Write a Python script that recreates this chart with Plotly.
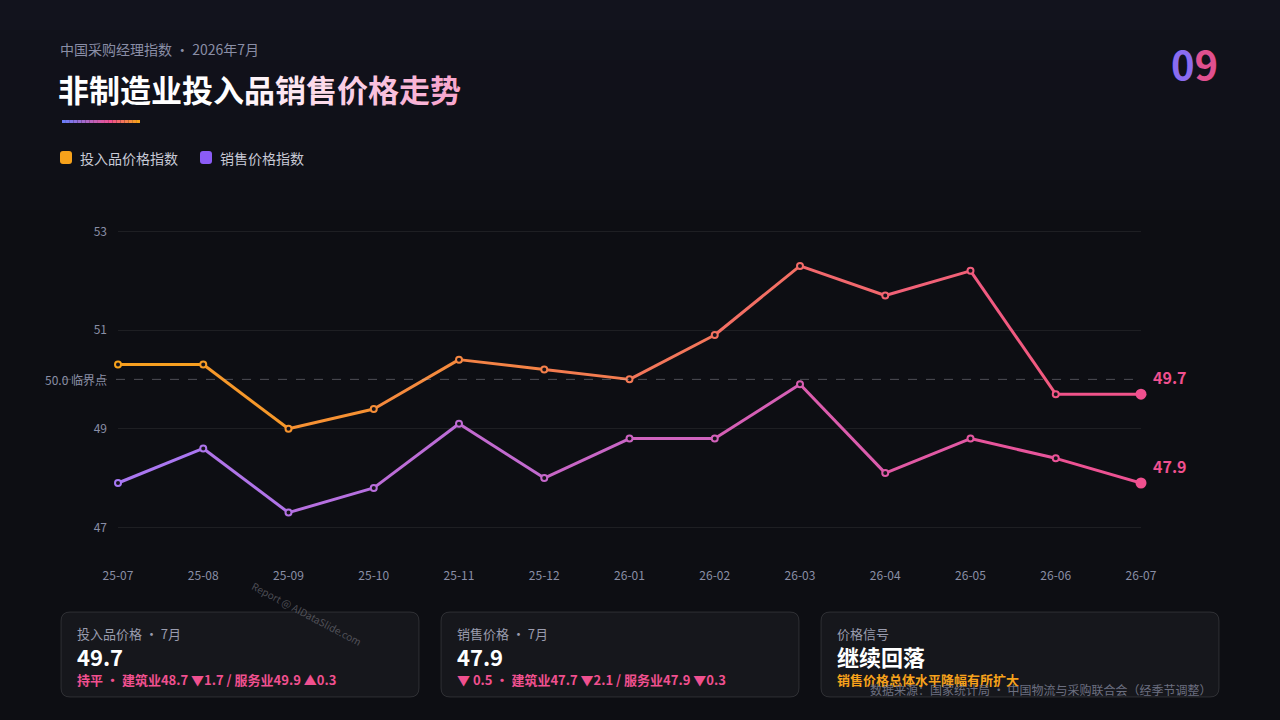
import plotly.graph_objects as go

months = ["25-07", "25-08", "25-09", "25-10", "25-11", "25-12", "26-01",
          "26-02", "26-03", "26-04", "26-05", "26-06", "26-07"]
input_price = [50.3, 50.3, 49.0, 49.4, 50.4, 50.2, 50.0, 50.9, 52.3, 51.7, 52.2, 49.7, 49.7]
sales_price = [47.9, 48.6, 47.3, 47.8, 49.1, 48.0, 48.8, 48.8, 49.9, 48.1, 48.8, 48.4, 47.9]
y_ticks = [47, 49, 51, 53]
threshold = 50.0

FONT = "Noto Sans CJK SC"
PINK = "#f0508f"

W, H = 1280, 720
L, R, T, B = 118, 139, 182, 163
PW, PH = W - L - R, H - T - B


def px(x):
    # page pixel -> paper x (paper is the plot area)
    return (x - L) / PW


def py(y):
    return 1 - (y - T) / PH


def mix(c1, c2, t):
    a = [int(c1[i:i + 2], 16) for i in (1, 3, 5)]
    b = [int(c2[i:i + 2], 16) for i in (1, 3, 5)]
    return "#" + "".join("%02x" % round(a[k] + (b[k] - a[k]) * t) for k in range(3))


def rounded(x0, y0, x1, y1, r=8):
    # rounded rectangle path in paper coords, from page pixels
    pts = [(x0 + r, y0), (x1 - r, y0), (x1, y0), (x1, y0 + r), (x1, y1 - r), (x1, y1),
           (x1 - r, y1), (x0 + r, y1), (x0, y1), (x0, y1 - r), (x0, y0 + r), (x0, y0), (x0 + r, y0)]
    p = [(px(a), py(b)) for a, b in pts]
    s = f"M{p[0][0]},{p[0][1]} L{p[1][0]},{p[1][1]} Q{p[2][0]},{p[2][1]} {p[3][0]},{p[3][1]} "
    s += f"L{p[4][0]},{p[4][1]} Q{p[5][0]},{p[5][1]} {p[6][0]},{p[6][1]} "
    s += f"L{p[7][0]},{p[7][1]} Q{p[8][0]},{p[8][1]} {p[9][0]},{p[9][1]} "
    s += f"L{p[10][0]},{p[10][1]} Q{p[11][0]},{p[11][1]} {p[12][0]},{p[12][1]} Z"
    return s


fig = go.Figure()
xs = list(range(len(months)))
n = len(xs) - 1

# gradient lines, drawn segment by segment
for vals, c_start, c_end in [(input_price, "#f7a21b", PINK), (sales_price, "#a779f5", PINK)]:
    for i in range(n):
        fig.add_trace(go.Scatter(x=[xs[i], xs[i + 1]], y=[vals[i], vals[i + 1]], mode="lines",
                                 line=dict(color=mix(c_start, c_end, (i + 0.5) / n), width=3),
                                 hoverinfo="skip", showlegend=False, cliponaxis=False))
    cols = [mix(c_start, c_end, i / n) for i in range(n + 1)]
    fig.add_trace(go.Scatter(x=xs[:-1], y=vals[:-1], mode="markers",
                             marker=dict(size=6, color="#15131a", line=dict(color=cols[:-1], width=2)),
                             showlegend=False, cliponaxis=False))
    fig.add_trace(go.Scatter(x=[xs[-1]], y=[vals[-1]], mode="markers",
                             marker=dict(size=11, color=PINK),
                             showlegend=False, cliponaxis=False))

shapes = [
    dict(type="line", xref="paper", yref="y", x0=px(62), x1=1, y0=threshold, y1=threshold,
         line=dict(color="rgba(200,200,210,0.35)", width=1, dash="dash")),
]
# faint top tint
for k in range(8):
    shapes.append(dict(type="rect", xref="paper", yref="paper", x0=px(0), x1=px(W),
                       y0=py(30 * (k + 1)), y1=py(30 * k), layer="below", line=dict(width=0),
                       fillcolor=f"rgba(70,70,120,{0.10 * (1 - k / 8):.3f})"))
# accent bar under title
for i in range(20):
    c = mix("#6b7cf7", PINK, i / 12) if i <= 12 else mix(PINK, "#f7a21b", (i - 12) / 7)
    shapes.append(dict(type="rect", xref="paper", yref="paper",
                       x0=px(62 + i * 3.9), x1=px(62 + (i + 1) * 3.9),
                       y0=py(123), y1=py(120), line=dict(width=0), fillcolor=c))
# legend squares
for x0, c in [(60, "#f7a21b"), (200, "#8b5cf6")]:
    shapes.append(dict(type="path", xref="paper", yref="paper", path=rounded(x0, 151, x0 + 12, 164, 3),
                       fillcolor=c, line=dict(width=0)))
# cards
for x0, w in [(61, 358), (441, 358), (821, 398)]:
    shapes.append(dict(type="path", xref="paper", yref="paper", path=rounded(x0, 612, x0 + w, 697, 9),
                       fillcolor="rgba(255,255,255,0.04)",
                       line=dict(color="rgba(255,255,255,0.12)", width=1)))

title = "非制造业投入品销售价格走势"
title_html = "".join(
    f"<span style='color:{mix('#ffffff', '#f7a8cf', (i - 5) / 7) if i > 5 else '#ffffff'}'>{ch}</span>"
    for i, ch in enumerate(title))


def ann(x, y, text, size, color, anchor="left", yanchor="middle", **kw):
    return dict(xref="paper", yref="paper", x=px(x), y=py(y), text=text, showarrow=False,
                xanchor=anchor, yanchor=yanchor, font=dict(size=size, color=color, family=FONT), **kw)


annotations = [
    ann(58, 49, "中国采购经理指数 · 2026年7月", 14, "#8a8ea6"),
    ann(56, 88, "<b>" + title_html + "</b>", 31, "#ffffff"),
    ann(1220, 63, "<b><span style='color:#8a6cf0'>0</span><span style='color:#e0508f'>9</span></b>", 40,
        "#ffffff", anchor="right"),
    ann(78, 158, "投入品价格指数", 14, "#c8cad6"),
    ann(218, 158, "销售价格指数", 14, "#c8cad6"),
    ann(109, 379, "50.0 临界点", 12, "#8a8ea6", anchor="right"),
    ann(75, 633, "投入品价格 · 7月", 13, "#9a9cae"),
    ann(75, 656, "<b>49.7</b>", 22, "#ffffff"),
    ann(75, 679, "<b>持平 • 建筑业48.7 ▼1.7 / 服务业49.9 ▲0.3</b>", 13, PINK),
    ann(455, 633, "销售价格 · 7月", 13, "#9a9cae"),
    ann(455, 656, "<b>47.9</b>", 22, "#ffffff"),
    ann(455, 679, "<b>▼ 0.5 • 建筑业47.7 ▼2.1 / 服务业47.9 ▼0.3</b>", 13, PINK),
    ann(835, 633, "价格信号", 13, "#9a9cae"),
    ann(835, 656, "<b>继续回落</b>", 22, "#ffffff"),
    ann(835, 679, "<b>销售价格总体水平降幅有所扩大</b>", 13, "#f7a21b"),
    ann(1213, 689, "数据来源：国家统计局 · 中国物流与采购联合会（经季节调整）", 12, "#6c6f80", anchor="right"),
    ann(307, 613, "Report @ AIDataSlide.com", 10, "rgba(140,140,150,0.5)", anchor="center", textangle=28),
]
for vals in (input_price, sales_price):
    annotations.append(dict(xref="x", yref="y", x=xs[-1], y=vals[-1], text=f"<b>{vals[-1]:.1f}</b>",
                            showarrow=False, xanchor="left", xshift=10, yshift=17,
                            font=dict(size=16, color=PINK, family=FONT)))

fig.update_layout(
    width=W, height=H,
    paper_bgcolor="#0d0e13", plot_bgcolor="rgba(0,0,0,0)",
    margin=dict(l=L, r=R, t=T, b=B),
    xaxis=dict(range=[0, 12], tickvals=xs, ticktext=months, showgrid=False, zeroline=False,
               showline=False, ticks="", ticklabelstandoff=10,
               tickfont=dict(color="#8a8ea6", size=12, family=FONT)),
    yaxis=dict(range=[46.4, 54], tickvals=y_ticks, showgrid=True, gridcolor="rgba(255,255,255,0.07)",
               zeroline=False, showline=False, ticklabelstandoff=10,
               tickfont=dict(color="#8a8ea6", size=12, family=FONT)),
    shapes=shapes, annotations=annotations, showlegend=False,
)

fig.write_html("out.html", config={"displayModeBar": False},
               post_script="document.body.style.margin='0';")
